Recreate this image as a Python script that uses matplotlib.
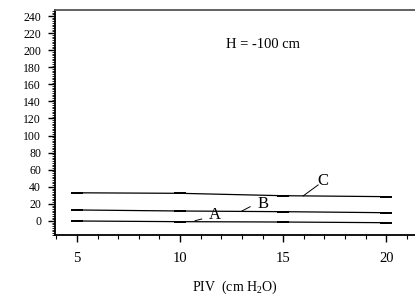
import matplotlib
matplotlib.use("Agg")
import matplotlib.pyplot as plt
from matplotlib.ticker import MultipleLocator

# 数据
piv = [5, 10, 15, 20]
curve_a = [0, -0.8, -1.2, -2.0]
curve_b = [12.9, 11.7, 10.9, 9.7]
curve_c = [33.0, 32.4, 29.6, 28.5]
x_ticks = [5, 10, 15, 20]
y_ticks = list(range(0, 241, 20))

plt.rcParams['font.family'] = ['Liberation Serif', 'DejaVu Serif']
plt.rcParams['mathtext.fontset'] = 'custom'
plt.rcParams['mathtext.rm'] = 'Liberation Serif'

fig = plt.figure(figsize=(4.15, 2.95), dpi=100)
ax = fig.add_axes([0.1325, 0.2034, 0.8675, 0.7626])

for ys in (curve_a, curve_b, curve_c):
    ax.plot(piv, ys, color='black', lw=0.9, marker='_', ms=9, mew=1.4)

ax.set_xlim(3.93, 21.4)
ax.set_ylim(-16.4, 247)

ax.set_xticks(x_ticks)
ax.set_yticks(y_ticks)
ax.xaxis.set_minor_locator(MultipleLocator(1))
ax.yaxis.set_minor_locator(MultipleLocator(2))
ax.tick_params(axis='x', which='major', length=5, width=1, labelsize=10.5, pad=7)
ax.tick_params(axis='x', which='minor', length=3, width=0.8)
ax.tick_params(axis='y', which='major', length=5, width=1, labelsize=8.5, pad=5)
ax.tick_params(axis='y', which='minor', length=2.5, width=0.6)

ax.spines['right'].set_visible(False)
ax.spines['top'].set_color('#555555')
for s in ('left', 'bottom', 'top'):
    ax.spines[s].set_linewidth(1.3)

# 曲线标注
ax.text(16.94, 46.8, 'C', fontsize=12, ha='center', va='center')
ax.plot([15.97, 16.7], [29.3, 42.2], color='black', lw=0.7)
ax.text(14.03, 19.9, 'B', fontsize=12, ha='center', va='center')
ax.plot([13.0, 13.4], [11.7, 16.7], color='black', lw=0.7)
ax.text(11.7, 7.0, 'A', fontsize=12, ha='center', va='center')
ax.plot([10.73, 11.05], [0.35, 2.3], color='black', lw=0.7)

ax.text(14.03, 207, 'H = -100 cm', fontsize=10.5, ha='center', va='center')
ax.set_xlabel('PIV  (cm H$_2$O)', fontsize=10, labelpad=10)

fig.savefig('out.png', dpi=100)
